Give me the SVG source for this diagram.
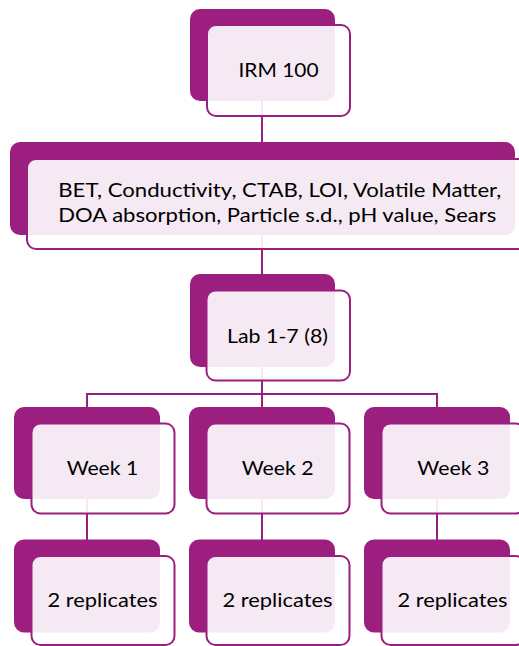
<svg xmlns="http://www.w3.org/2000/svg" width="519" height="646" viewBox="0 0 519 646">
<style>
.back{fill:#9C1F80}
.front{fill:#ffffff;fill-opacity:0.9;stroke:#9C1F80;stroke-width:2}
.conn{stroke:#9C1F80;stroke-width:2;fill:none}
text{font-family:Lato,"Liberation Sans",Arial,sans-serif;font-size:20px;fill:#000}
</style>
<rect width="519" height="646" fill="#ffffff"/>
<g id="connectors">
<line class="conn" x1="262" y1="100" x2="262" y2="280"/>
<line class="conn" x1="262" y1="360" x2="262" y2="395"/>
<polyline class="conn" points="87,412 87,394 437,394 437,412"/>
<line class="conn" x1="262" y1="394" x2="262" y2="412"/>
<line class="conn" x1="87" y1="495" x2="87" y2="545"/>
<line class="conn" x1="262" y1="495" x2="262" y2="545"/>
<line class="conn" x1="437" y1="495" x2="437" y2="545"/>
</g>
<g id="irm">
<rect class="back" x="190" y="9" width="145" height="92" rx="10"/>
<rect class="front" x="207" y="25" width="143" height="91" rx="9"/>
<text x="278.5" y="77" text-anchor="middle" textLength="80" lengthAdjust="spacingAndGlyphs">IRM 100</text>
</g>
<g id="tests">
<rect class="back" x="10" y="142" width="505" height="93" rx="10"/>
<rect class="front" x="27" y="159" width="500" height="90" rx="9"/>
<text x="58.3" y="196.7" textLength="443" lengthAdjust="spacingAndGlyphs">BET, Conductivity, CTAB, LOI, Volatile Matter,</text>
<text x="58.3" y="222.3" textLength="438" lengthAdjust="spacingAndGlyphs">DOA absorption, Particle s.d., pH value, Sears</text>
</g>
<g id="lab">
<rect class="back" x="190" y="274" width="145" height="93" rx="10"/>
<rect class="front" x="206.5" y="290.5" width="143.5" height="90" rx="9"/>
<text x="227" y="342.7" textLength="101" lengthAdjust="spacingAndGlyphs">Lab 1-7 (8)</text>
</g>
<g id="week1">
<rect class="back" x="14" y="407" width="146" height="92" rx="10"/>
<rect class="front" x="31.5" y="423.5" width="143" height="90" rx="9"/>
<text x="66.7" y="475" textLength="71.6" lengthAdjust="spacingAndGlyphs">Week 1</text>
</g>
<g id="week2">
<rect class="back" x="189" y="407" width="146" height="92" rx="10"/>
<rect class="front" x="206.5" y="423.5" width="143" height="90" rx="9"/>
<text x="241.7" y="475" textLength="72" lengthAdjust="spacingAndGlyphs">Week 2</text>
</g>
<g id="week3">
<rect class="back" x="364" y="407" width="146" height="92" rx="10"/>
<rect class="front" x="381.5" y="423.5" width="143" height="90" rx="9"/>
<text x="417.3" y="475" textLength="72" lengthAdjust="spacingAndGlyphs">Week 3</text>
</g>
<g id="rep1">
<rect class="back" x="14" y="539.5" width="146" height="93" rx="10"/>
<rect class="front" x="31.5" y="556" width="143" height="89" rx="9"/>
<text x="47.5" y="606.7" textLength="110" lengthAdjust="spacingAndGlyphs">2 replicates</text>
</g>
<g id="rep2">
<rect class="back" x="189" y="539.5" width="146" height="93" rx="10"/>
<rect class="front" x="206.5" y="556" width="143" height="89" rx="9"/>
<text x="222.5" y="606.7" textLength="110" lengthAdjust="spacingAndGlyphs">2 replicates</text>
</g>
<g id="rep3">
<rect class="back" x="364" y="539.5" width="146" height="93" rx="10"/>
<rect class="front" x="381.5" y="556" width="143" height="89" rx="9"/>
<text x="397.5" y="606.7" textLength="110" lengthAdjust="spacingAndGlyphs">2 replicates</text>
</g>
</svg>
